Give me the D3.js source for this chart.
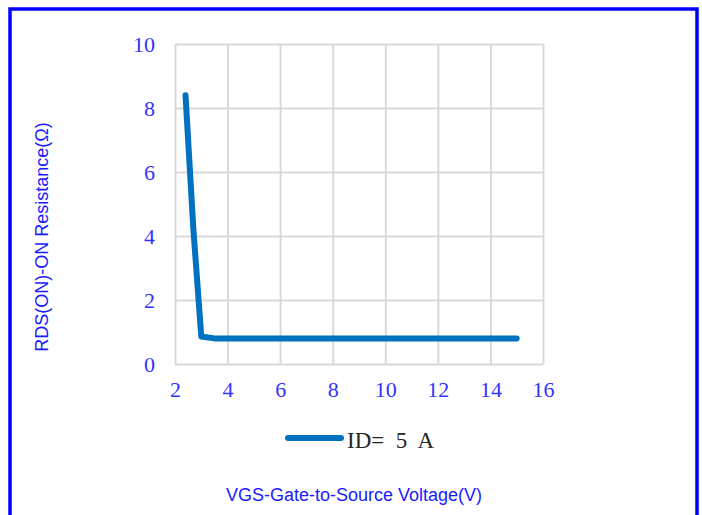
<!DOCTYPE html>
<html><head><meta charset="utf-8">
<script src="https://cdn.jsdelivr.net/npm/d3@7"></script>
<style>body{margin:0;background:#fff}svg{display:block}</style>
</head><body>
<svg id="c" width="702" height="515"></svg>
<script>
const vgs = [2.4, 2.7, 3.0, 3.5, 4, 5, 6, 7, 8, 9, 10, 11, 12, 13, 14, 15];
const rds = [8.4, 4.2, 0.86, 0.8, 0.8, 0.8, 0.8, 0.8, 0.8, 0.8, 0.8, 0.8, 0.8, 0.8, 0.8, 0.8];
const xTicks = [2, 4, 6, 8, 10, 12, 14, 16];
const yTicks = [0, 2, 4, 6, 8, 10];
const seriesName = "ID= 5 A";
const xTitle = "VGS-Gate-to-Source Voltage(V)";
const yTitle = "RDS(ON)-ON Resistance(Ω)";

const svg = d3.select("#c");
svg.append("rect").attr("x", 10).attr("y", 9).attr("width", 687).attr("height", 520)
  .attr("fill", "none").attr("stroke", "#0000ff").attr("stroke-width", 3.5);

const x = d3.scaleLinear().domain([2, 16]).range([175, 543]);
const y = d3.scaleLinear().domain([0, 10]).range([364, 44]);
const grid = "#d9d9d9";
const tickFont = "'Liberation Serif','DejaVu Serif',serif";

const gx = svg.append("g").attr("transform", "translate(0,364)")
  .call(d3.axisBottom(x).tickValues(xTicks).tickSize(-320).tickPadding(17).tickFormat(d3.format("d")));
gx.select(".domain").remove();
gx.selectAll("line").attr("stroke", grid).attr("stroke-width", 2);
gx.selectAll("text").attr("fill", "#3333ff").attr("font-family", tickFont).attr("font-size", 22);

const gy = svg.append("g").attr("transform", "translate(175,0)")
  .call(d3.axisLeft(y).tickValues(yTicks).tickSize(-368).tickPadding(20).tickFormat(d3.format("d")));
gy.select(".domain").remove();
gy.selectAll("line").attr("stroke", grid).attr("stroke-width", 2);
gy.selectAll("text").attr("fill", "#3333ff").attr("font-family", tickFont).attr("font-size", 22);

const pts = vgs.map((v, i) => [v, rds[i]]);
svg.append("path").datum(pts)
  .attr("d", d3.line().x(d => x(d[0])).y(d => y(d[1])))
  .attr("fill", "none").attr("stroke", "#0070c0").attr("stroke-width", 6)
  .attr("stroke-linecap", "round").attr("stroke-linejoin", "round");

// legend
svg.append("line").attr("x1", 288).attr("x2", 341).attr("y1", 438).attr("y2", 438)
  .attr("stroke", "#0070c0").attr("stroke-width", 6).attr("stroke-linecap", "round");
svg.append("text").attr("x", 347).attr("y", 448).attr("fill", "#262626")
  .attr("font-family", tickFont).attr("font-size", 23)
  .attr("xml:space", "preserve").style("white-space", "pre")
  .text(seriesName.replace(/ /g, "  "));

svg.append("text").attr("x", 354).attr("y", 501).attr("text-anchor", "middle")
  .attr("fill", "#1a1aff").attr("font-family", "'Liberation Sans',Arial,sans-serif").attr("font-size", 18)
  .text(xTitle);
svg.append("text").attr("transform", "translate(48,237) rotate(-90)").attr("text-anchor", "middle")
  .attr("fill", "#1a1aff").attr("font-family", "'Liberation Sans',Arial,sans-serif").attr("font-size", 18)
  .text(yTitle);
</script>
</body></html>
